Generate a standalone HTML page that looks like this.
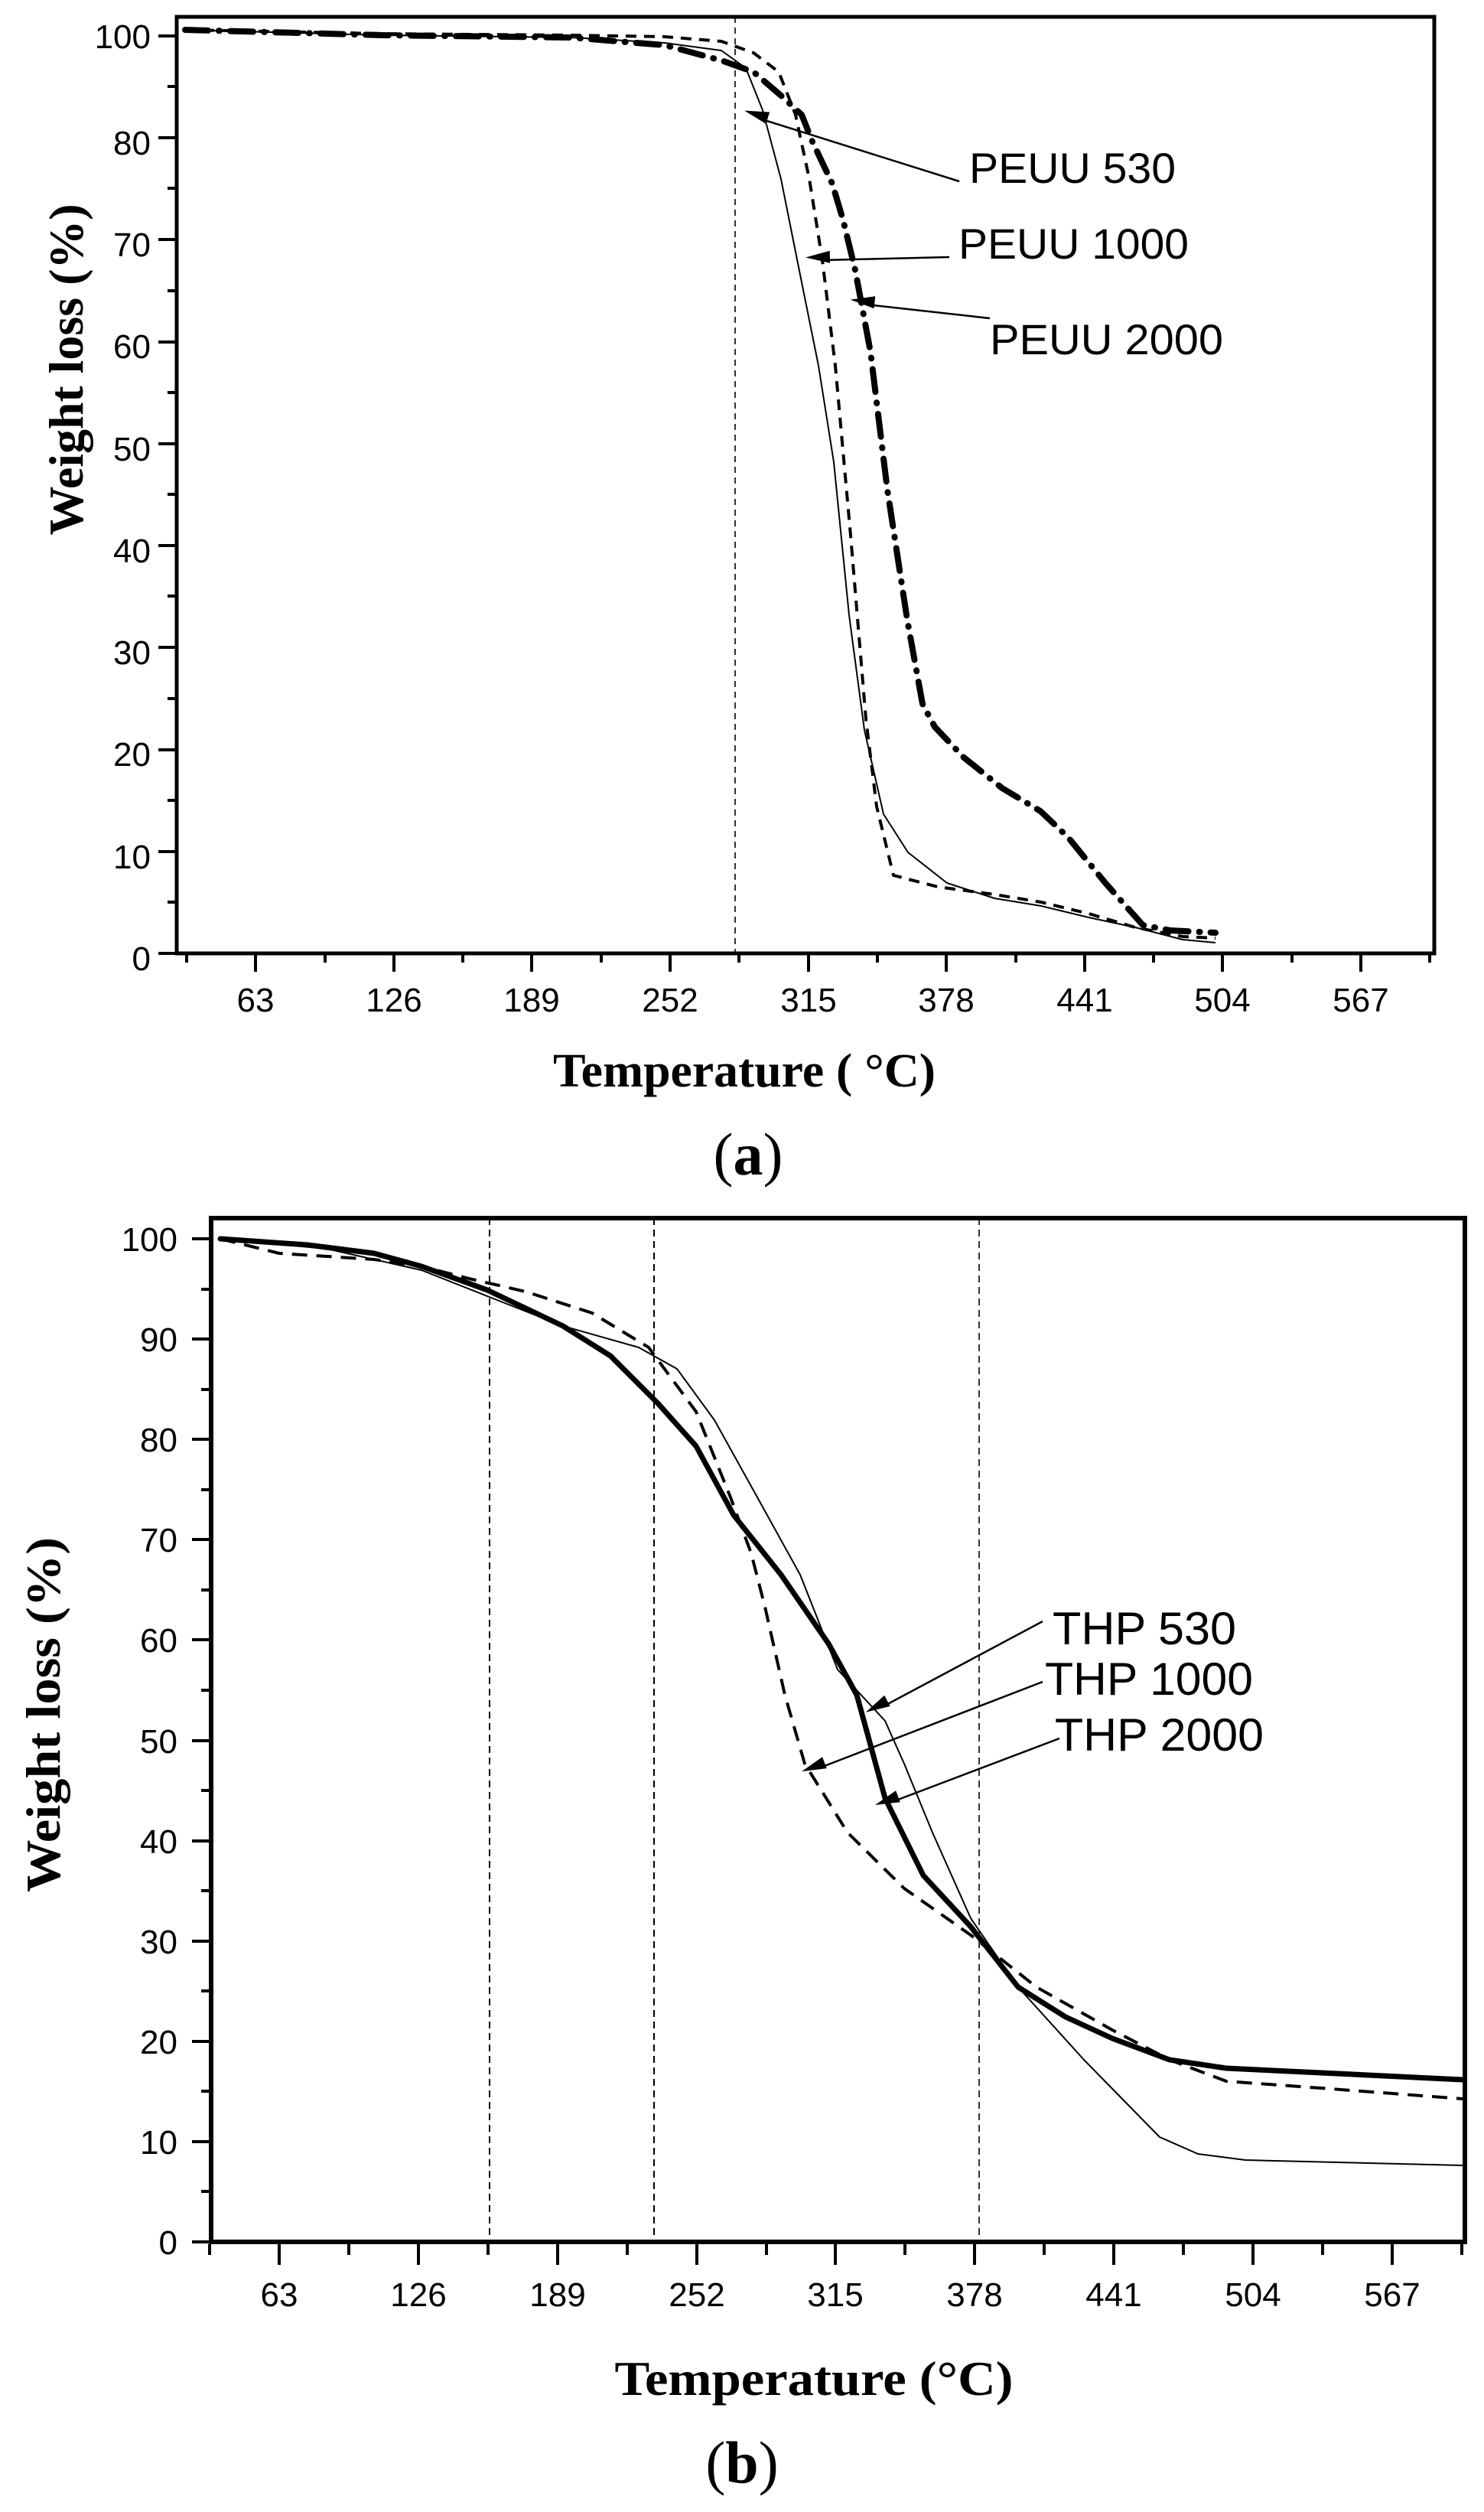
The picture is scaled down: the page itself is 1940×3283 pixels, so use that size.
<!DOCTYPE html>
<html><head><meta charset="utf-8"><style>
html,body{margin:0;padding:0;background:#fff;}
svg{display:block;}
.tk{font-family:"Liberation Sans",sans-serif;font-size:44px;fill:#000;}
.ttl{font-family:"Liberation Serif",serif;font-weight:bold;fill:#000;}
.ann{font-family:"Liberation Sans",sans-serif;fill:#000;}
</style></head><body>
<svg width="1940" height="3283" viewBox="0 0 1940 3283" xmlns="http://www.w3.org/2000/svg">
<defs>
<marker id="ah" markerWidth="10" markerHeight="8" refX="10" refY="4" orient="auto" markerUnits="userSpaceOnUse" viewBox="0 0 10 8" style="overflow:visible">
<path d="M0,0 L10,4 L0,8 z" fill="#000" transform="scale(3.2,2)" />
</marker>
</defs>
<rect width="1940" height="3283" fill="#fff"/>

<!-- ============ CHART A ============ -->
<g fill="none" stroke="#000">
<line x1="961" y1="22" x2="961" y2="1246" stroke-width="1.6" stroke-dasharray="8 6"/>
<rect x="231" y="22" width="1644" height="1224" stroke-width="5"/>
</g>
<g stroke="#000" stroke-width="4">
<line x1="207" y1="1246" x2="231" y2="1246"/><line x1="219" y1="1179" x2="231" y2="1179"/>
<line x1="207" y1="1113" x2="231" y2="1113"/><line x1="219" y1="1046" x2="231" y2="1046"/>
<line x1="207" y1="980" x2="231" y2="980"/><line x1="219" y1="913" x2="231" y2="913"/>
<line x1="207" y1="846" x2="231" y2="846"/><line x1="219" y1="779" x2="231" y2="779"/>
<line x1="207" y1="713" x2="231" y2="713"/><line x1="219" y1="646" x2="231" y2="646"/>
<line x1="207" y1="580" x2="231" y2="580"/><line x1="219" y1="513" x2="231" y2="513"/>
<line x1="207" y1="447" x2="231" y2="447"/><line x1="219" y1="380" x2="231" y2="380"/>
<line x1="207" y1="313" x2="231" y2="313"/><line x1="219" y1="246" x2="231" y2="246"/>
<line x1="207" y1="180" x2="231" y2="180"/><line x1="219" y1="113" x2="231" y2="113"/>
<line x1="207" y1="47" x2="231" y2="47"/>
</g>
<g stroke="#000" stroke-width="4">
<line x1="244" y1="1246" x2="244" y2="1258"/>
<line x1="334" y1="1246" x2="334" y2="1270"/><line x1="425" y1="1246" x2="425" y2="1258"/>
<line x1="515" y1="1246" x2="515" y2="1270"/><line x1="605" y1="1246" x2="605" y2="1258"/>
<line x1="695" y1="1246" x2="695" y2="1270"/><line x1="786" y1="1246" x2="786" y2="1258"/>
<line x1="876" y1="1246" x2="876" y2="1270"/><line x1="966" y1="1246" x2="966" y2="1258"/>
<line x1="1057" y1="1246" x2="1057" y2="1270"/><line x1="1147" y1="1246" x2="1147" y2="1258"/>
<line x1="1237" y1="1246" x2="1237" y2="1270"/><line x1="1328" y1="1246" x2="1328" y2="1258"/>
<line x1="1418" y1="1246" x2="1418" y2="1270"/><line x1="1508" y1="1246" x2="1508" y2="1258"/>
<line x1="1598" y1="1246" x2="1598" y2="1270"/><line x1="1689" y1="1246" x2="1689" y2="1258"/>
<line x1="1779" y1="1246" x2="1779" y2="1270"/><line x1="1869" y1="1246" x2="1869" y2="1258"/>
</g>
<g class="tk" text-anchor="end">
<text x="197" y="1268">0</text><text x="197" y="1135">10</text><text x="197" y="1001">20</text>
<text x="197" y="868">30</text><text x="197" y="735">40</text><text x="197" y="602">50</text>
<text x="197" y="468">60</text><text x="197" y="335">70</text><text x="197" y="202">80</text>
<text x="197" y="63">100</text>
</g>
<g class="tk" text-anchor="middle">
<text x="334" y="1322">63</text><text x="515" y="1322">126</text><text x="695" y="1322">189</text>
<text x="876" y="1322">252</text><text x="1057" y="1322">315</text><text x="1237" y="1322">378</text>
<text x="1418" y="1322">441</text><text x="1598" y="1322">504</text><text x="1779" y="1322">567</text>
</g>
<g fill="none" stroke="#000" stroke-linejoin="round">
<polyline stroke-width="2" points="242,39 500,46 746,49 869,56 943,66 975,89 997,144 1021,234 1045,354 1070,478 1090,604 1110,804 1130,954 1155,1064 1187,1114 1238,1154 1300,1174 1361,1184 1423,1199 1484,1212 1546,1228 1589,1232"/>
<polyline stroke-width="4" stroke-dasharray="14 10" points="242,39 500,44 746,46 869,48 943,54 985,69 1018,94 1040,150 1058,234 1075,340 1092,478 1112,700 1132,940 1146,1054 1168,1144 1226,1159 1300,1169 1361,1179 1423,1194 1484,1212 1546,1224 1589,1226"/>
<polyline stroke-width="8" stroke-linecap="round" stroke-dasharray="30 14 1 14" points="242,39 500,46 746,49 869,59 943,79 985,94 1020,124 1048,150 1062,185 1088,240 1102,287 1118,353 1138,460 1160,640 1186,810 1206,920 1222,950 1260,990 1310,1030 1360,1060 1396,1094 1445,1154 1494,1209 1530,1216 1589,1219"/>
</g>
<g stroke="#000" stroke-width="2.5" fill="none">
<line x1="1254" y1="237" x2="993" y2="155" marker-end="url(#ah)"/>
<line x1="1241" y1="336" x2="1075" y2="340" marker-end="url(#ah)"/>
<line x1="1294" y1="416" x2="1133" y2="398" marker-end="url(#ah)"/>
</g>
<g class="ann" font-size="56">
<text x="1267" y="239" textLength="270" lengthAdjust="spacingAndGlyphs">PEUU 530</text>
<text x="1253" y="338" textLength="301" lengthAdjust="spacingAndGlyphs">PEUU 1000</text>
<text x="1294" y="463" textLength="305" lengthAdjust="spacingAndGlyphs">PEUU 2000</text>
</g>
<text class="ttl" font-size="64" transform="translate(108,483) rotate(-90)" text-anchor="middle" textLength="433" lengthAdjust="spacingAndGlyphs">Weight loss (%)</text>
<text class="ttl" font-size="62" x="973" y="1420" text-anchor="middle" textLength="500" lengthAdjust="spacingAndGlyphs">Temperature ( °C)</text>
<text x="978" y="1535" text-anchor="middle" font-family="Liberation Serif, serif" font-size="78">(<tspan font-weight="bold">a</tspan>)</text>

<!-- ============ CHART B ============ -->
<g fill="none" stroke="#000">
<line x1="640" y1="1592" x2="640" y2="2933" stroke-width="2" stroke-dasharray="9 6"/>
<line x1="855" y1="1592" x2="855" y2="2933" stroke-width="2" stroke-dasharray="9 6"/>
<line x1="1280" y1="1592" x2="1280" y2="2933" stroke-width="1.6" stroke-dasharray="9 6"/>
<rect x="276" y="1592" width="1639" height="1338" stroke-width="6"/>
</g>
<g stroke="#000" stroke-width="4">
<line x1="251" y1="2930" x2="276" y2="2930"/><line x1="263" y1="2864" x2="276" y2="2864"/>
<line x1="251" y1="2799" x2="276" y2="2799"/><line x1="263" y1="2733" x2="276" y2="2733"/>
<line x1="251" y1="2668" x2="276" y2="2668"/><line x1="263" y1="2602" x2="276" y2="2602"/>
<line x1="251" y1="2537" x2="276" y2="2537"/><line x1="263" y1="2471" x2="276" y2="2471"/>
<line x1="251" y1="2406" x2="276" y2="2406"/><line x1="263" y1="2340" x2="276" y2="2340"/>
<line x1="251" y1="2275" x2="276" y2="2275"/><line x1="263" y1="2209" x2="276" y2="2209"/>
<line x1="251" y1="2143" x2="276" y2="2143"/><line x1="263" y1="2078" x2="276" y2="2078"/>
<line x1="251" y1="2012" x2="276" y2="2012"/><line x1="263" y1="1947" x2="276" y2="1947"/>
<line x1="251" y1="1881" x2="276" y2="1881"/><line x1="263" y1="1816" x2="276" y2="1816"/>
<line x1="251" y1="1750" x2="276" y2="1750"/><line x1="263" y1="1685" x2="276" y2="1685"/>
<line x1="251" y1="1619" x2="276" y2="1619"/>
</g>
<g stroke="#000" stroke-width="4">
<line x1="274" y1="2933" x2="274" y2="2947"/>
<line x1="365" y1="2933" x2="365" y2="2960"/><line x1="456" y1="2933" x2="456" y2="2947"/>
<line x1="547" y1="2933" x2="547" y2="2960"/><line x1="638" y1="2933" x2="638" y2="2947"/>
<line x1="729" y1="2933" x2="729" y2="2960"/><line x1="820" y1="2933" x2="820" y2="2947"/>
<line x1="911" y1="2933" x2="911" y2="2960"/><line x1="1002" y1="2933" x2="1002" y2="2947"/>
<line x1="1092" y1="2933" x2="1092" y2="2960"/><line x1="1183" y1="2933" x2="1183" y2="2947"/>
<line x1="1274" y1="2933" x2="1274" y2="2960"/><line x1="1365" y1="2933" x2="1365" y2="2947"/>
<line x1="1456" y1="2933" x2="1456" y2="2960"/><line x1="1547" y1="2933" x2="1547" y2="2947"/>
<line x1="1638" y1="2933" x2="1638" y2="2960"/><line x1="1729" y1="2933" x2="1729" y2="2947"/>
<line x1="1820" y1="2933" x2="1820" y2="2960"/><line x1="1911" y1="2933" x2="1911" y2="2947"/>
</g>
<g class="tk" text-anchor="end">
<text x="232" y="2946">0</text><text x="232" y="2815">10</text><text x="232" y="2684">20</text>
<text x="232" y="2553">30</text><text x="232" y="2422">40</text><text x="232" y="2291">50</text>
<text x="232" y="2159">60</text><text x="232" y="2028">70</text><text x="232" y="1897">80</text>
<text x="232" y="1766">90</text><text x="232" y="1635">100</text>
</g>
<g class="tk" text-anchor="middle">
<text x="365" y="3014">63</text><text x="547" y="3014">126</text><text x="729" y="3014">189</text>
<text x="911" y="3014">252</text><text x="1092" y="3014">315</text><text x="1274" y="3014">378</text>
<text x="1456" y="3014">441</text><text x="1638" y="3014">504</text><text x="1820" y="3014">567</text>
</g>
<g fill="none" stroke="#000" stroke-linejoin="round" stroke-linecap="round">
<polyline stroke-width="2" points="288,1619 427,1632 551,1660 637,1694 736,1733 835,1761 885,1789 934,1856 984,1946 1046,2058 1095,2182 1157,2249 1182,2305 1219,2395 1269,2507 1331,2597 1417,2692 1516,2793 1566,2815 1628,2823 1912,2830"/>
<polyline stroke-width="4" stroke-linecap="butt" stroke-dasharray="20 12" points="288,1619 365,1638 489,1646 551,1655 613,1671 687,1688 774,1716 848,1761 910,1845 955,1957 982,2030 1000,2100 1026,2215 1052,2305 1108,2395 1182,2468 1269,2529 1355,2597 1454,2653 1529,2692 1603,2720 1727,2729 1912,2743"/>
<polyline stroke-width="7" points="288,1619 402,1627 489,1638 551,1655 637,1686 736,1733 798,1772 860,1834 910,1890 959,1980 1021,2058 1083,2148 1120,2215 1157,2350 1207,2451 1269,2518 1331,2597 1393,2636 1454,2664 1529,2692 1603,2703 1727,2709 1912,2718"/>
</g>
<g stroke="#000" stroke-width="2.5" fill="none">
<line x1="1363" y1="2119" x2="1153" y2="2231" marker-end="url(#ah)"/>
<line x1="1363" y1="2198" x2="1070" y2="2311" marker-end="url(#ah)"/>
<line x1="1385" y1="2272" x2="1166" y2="2355" marker-end="url(#ah)"/>
</g>
<g class="ann" font-size="60">
<text x="1376" y="2149" textLength="240" lengthAdjust="spacingAndGlyphs">THP 530</text>
<text x="1366" y="2215" textLength="272" lengthAdjust="spacingAndGlyphs">THP 1000</text>
<text x="1379" y="2288" textLength="273" lengthAdjust="spacingAndGlyphs">THP 2000</text>
</g>
<text class="ttl" font-size="64" transform="translate(78,2241) rotate(-90)" text-anchor="middle" textLength="464" lengthAdjust="spacingAndGlyphs">Weight loss (%)</text>
<text class="ttl" font-size="64" x="1064" y="3130" text-anchor="middle" textLength="521" lengthAdjust="spacingAndGlyphs">Temperature (°C)</text>
<text x="970" y="3245" text-anchor="middle" font-family="Liberation Serif, serif" font-size="78">(<tspan font-weight="bold">b</tspan>)</text>
</svg>
</body></html>
